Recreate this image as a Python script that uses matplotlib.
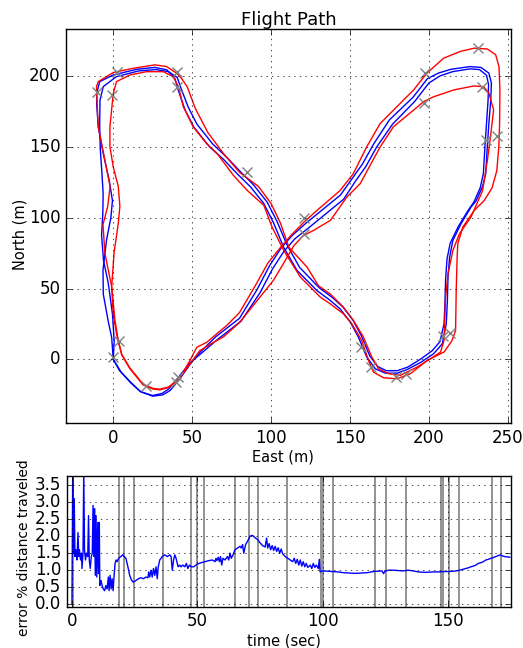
import numpy as np
import matplotlib
matplotlib.use("Agg")
import matplotlib.pyplot as plt

plt.style.use('classic')

# flight path, (east, north) in metres
blue_lap1 = [(0, 0), (4, -8), (10.5, -15.5), (17, -22.5), (25, -26), (31.5, -25), (36, -22), (42, -14),
             (50, -1.5), (55, 5), (65, 16), (80, 29), (91, 49), (99, 66), (106, 78), (113, 87), (122, 96),
             (133, 106), (144, 116), (151, 127), (158, 138), (165, 152), (175, 169), (190, 185), (199, 198),
             (206, 202), (214, 204.7), (226, 206.6), (233, 206), (238, 202), (239.6, 195), (239.2, 183),
             (238, 166.5), (237, 150), (236, 131), (234, 122), (230, 112), (226.7, 107.5), (220.4, 95.8),
             (215.2, 84), (213.1, 72), (212.1, 58), (211.7, 41.5), (211, 25), (208.5, 11), (203, 4), (195, -2),
             (186, -7.3), (180, -9.7), (172.3, -9.7), (166, -6.6), (160.6, 1.7), (155.3, 15.8), (150, 26.7),
             (143.6, 35.8), (137, 42), (129, 48.6), (116.5, 62.7), (108, 79), (101.7, 96), (95.4, 110),
             (87, 121.7), (78.5, 131), (70, 141), (61, 150), (51, 164), (45.5, 176), (41.2, 190), (39, 198.3),
             (34, 204.3), (26.4, 206), (15, 204.7), (0, 200.7), (-8.5, 196), (-10.5, 188), (-10.5, 180),
             (-9.5, 164), (-6.3, 145), (-2.5, 126), (-0.5, 112), (-1.5, 100), (-4.2, 84.5), (-6.5, 63),
             (-6.3, 46), (-3.2, 27), (-1, 15.5), (0, 0)]
blue_lap2 = [(0, 0), (5, -9), (11, -16.5), (17.5, -23), (25, -25.5), (31, -24), (35, -21), (41, -13),
             (49, -2), (55, 3.5), (66, 14), (81, 27), (93, 47), (101, 64), (108, 76), (115, 85), (124, 93),
             (135, 103), (146, 113), (153, 125), (160, 136), (167, 150), (177, 166), (191, 182), (200, 195),
             (207, 200), (215, 203), (226, 205), (232, 204.5), (236.5, 200.5), (237.8, 194), (237.5, 183),
             (236.5, 166.5), (235.5, 150), (234.5, 131), (232.5, 121), (228.5, 111), (224.5, 104.5),
             (218.5, 93.5), (213.5, 82), (211.5, 71), (210.6, 57), (210.2, 41), (209.6, 25), (207, 12.5),
             (202, 6), (194.5, 0), (186.5, -5.5), (180, -8), (173, -8), (167.5, -5), (162.5, 2.5), (157.5, 16),
             (152, 27.5), (145.5, 37), (139, 43.5), (130.5, 50.5), (118, 65), (110, 81), (103.7, 97.5),
             (97.5, 111), (89, 123), (80.5, 132.5), (72, 142.5), (63, 152), (53, 166), (47.5, 178), (43, 191),
             (40.5, 199), (35, 203), (27, 204.5), (16, 203.5), (2, 199.5), (-6.3, 192.5), (-8.4, 183),
             (-8.6, 165), (-8.2, 148), (-7.2, 132), (-6.4, 117), (-6.6, 103), (-7.4, 88), (-6.2, 70),
             (-3.2, 54), (-0.5, 32), (0.6, 13), (0, 0)]
red_left = [(3.2, 13), (5.5, 3), (10.5, -6.5), (18.9, -18), (25.3, -21), (29.5, -21.5), (34.7, -20),
            (42.1, -13.1), (48.4, -1.2), (52.9, 8.5), (59.2, 12), (65.5, 18), (72, 24), (80, 33), (90, 52),
            (98, 68), (106, 79), (113, 88), (121, 97), (130, 106), (143.6, 119), (152.1, 131), (160.6, 150),
            (169.1, 166.4), (181.8, 180.6), (190.3, 190.1), (198.7, 201.9), (209.3, 212.5), (219.9, 217.3),
            (228.8, 219.6), (237, 219), (242.3, 215), (244.4, 206.6), (245, 190), (244.8, 166.5),
            (244.3, 150), (243, 133), (240, 121), (235, 112), (228.8, 105.2), (221.5, 93.4), (218.3, 81.6),
            (217.9, 72.2), (217.3, 48.6), (216.9, 20.3), (214.5, 13), (209.6, 5.2), (199, -0.7),
            (188.3, -10.1), (179.8, -13.7), (171.3, -13), (164.9, -9), (161.7, -0.7), (157.4, 13.4),
            (151.1, 25.2), (145.7, 32.3), (137.2, 39.4), (131.2, 43.9), (118.6, 58), (108, 76.9),
            (100.6, 93.4), (95.4, 108.7), (84.8, 119.3), (76, 130), (66, 145), (59.2, 152.2), (50.7, 164),
            (44.4, 178.3), (41.2, 192.5), (38, 199.5), (31.7, 203), (21.1, 203), (10.6, 200.7), (2.1, 196),
            (0, 187.7), (-2.1, 164.2), (-2.1, 150), (0, 135.8), (3.2, 122), (4.2, 108), (3.2, 96),
            (0.5, 75), (-1, 51.2), (1.1, 27.4), (3.2, 13)]
red_right = [(2.1, 17.9), (5.3, 3.6), (10.5, -6), (18.9, -17.5), (25.3, -20.5), (29.5, -21), (35, -19.5),
             (40, -16), (48.4, -3.6), (54.7, 6), (62, 11), (70, 16), (80, 26), (93, 44), (101.5, 55.8),
             (107, 66), (114.3, 80), (120, 87), (126.9, 91), (137.6, 98.1), (147.9, 114.4), (156.4, 123.9),
             (169.1, 149.9), (177.5, 164.1), (190.3, 175.9), (196.6, 181.8), (203, 185.3), (215.7, 190.1),
             (228.4, 192.9), (234.7, 192.4), (238, 188), (241, 176), (239, 157), (237, 140), (235, 126),
             (234, 119), (226.7, 100.5), (219.4, 88.7), (215.2, 76.9), (212.1, 60.4), (210.4, 41.5),
             (210, 25), (209.6, 13.4), (207.4, 5.2), (201.1, 0.5), (192.6, -5.4), (181.9, -11.3),
             (174.5, -10.1), (168.1, -6.6), (163.8, 1.7), (158.5, 15.8), (152.1, 27.6), (145.7, 37),
             (137.6, 46), (130, 52), (122.8, 65.1), (111.2, 79.2), (106, 96), (100, 110), (92, 122),
             (80, 132), (70, 145), (60, 160), (52, 177), (47, 192), (43.3, 198.3), (40.2, 201.9),
             (33.8, 206.6), (26.4, 207.8), (12.7, 205.4), (0, 202.4), (-9.5, 196), (-10.6, 192.4),
             (-10.5, 187.7), (-9.5, 164.2), (-5.3, 140.6), (-2, 122), (-3.5, 108), (-6.5, 95), (-5.3, 75),
             (-1, 51.2), (0, 32.1), (2.1, 17.9)]

# waypoints
wp_east = [2.2, -10.5, -1, 40.1, 40.5, 84.8, 121, 121, 197.3, 196.6, 231, 233.5, 236.3, 243.3,
           208.9, 213.5, 157.2, 163.5, 179.4, 185.7, 41.1, 40, 20.7, 0, 3.6]
wp_north = [203, 188.8, 186.5, 203, 192.4, 132.2, 100, 88.7, 202.3, 181, 219.5, 192.4, 154.7, 157.5,
            16.8, 18.4, 8.5, -5.7, -12.7, -10.3, -12.7, -16, -18.6, 1.4, 13.2]

# error vs time
err_t = [0.0, 0.3, 0.6, 0.9, 1.2, 1.6, 2.0, 2.4, 2.7, 3.0, 3.4, 3.8, 4.0, 4.4, 4.7, 5.0, 5.4, 5.8, 6.3,
         6.6, 6.9, 7.3, 7.7, 8.1, 8.4, 8.7, 9.0, 9.3, 9.6, 9.9, 10.3, 10.6, 10.9, 11.1, 11.6, 12.0, 12.5,
         13.0, 13.5, 14.0, 14.5, 14.8, 15.2, 15.6, 16.0, 16.4, 16.8, 17.2, 17.6, 18.0, 18.6, 19.5, 20.2,
         20.8, 21.5, 22.3, 23.0, 23.8, 24.5, 25.5, 26.5, 27.5, 28.5, 29.5, 30.3, 30.6, 31.0, 31.5, 32.0,
         32.5, 33.0, 33.5, 34.0, 34.4, 35.0, 36.0, 37.0, 38.0, 39.0, 39.5, 40.0, 40.5, 41.0, 41.5, 42.3,
         43.0, 43.5, 44.2, 45.0, 45.6, 46.2, 46.8, 47.5, 48.5, 50.0, 51.5, 53.0, 54.5, 56.0, 57.0, 57.4,
         57.8, 58.3, 58.8, 59.2, 59.7, 60.2, 61.0, 62.0, 62.5, 63.0, 63.5, 64.2, 65.0, 66.0, 67.0, 67.5,
         68.0, 68.5, 69.2, 70.0, 71.0, 72.0, 73.0, 74.0, 75.0, 76.0, 77.0, 77.6, 78.0, 78.6, 79.2, 79.8,
         80.4, 81.0, 81.6, 82.2, 82.8, 83.4, 84.0, 85.0, 86.0, 87.0, 88.0, 88.6, 89.2, 89.8, 90.4, 91.0,
         91.6, 92.2, 92.8, 93.4, 94.0, 95.0, 95.6, 96.2, 96.8, 97.4, 98.2, 98.6, 98.9, 100, 102, 104, 106,
         108, 110, 112, 114, 116, 118, 120, 122, 123.6, 124.2, 124.8, 126, 128, 130, 132, 134, 136, 138,
         140, 142, 144, 146, 148, 150, 152, 154, 156, 158, 159, 160, 161, 162, 163, 164, 165, 166, 167,
         168, 169, 170, 170.8, 171.5, 172.5, 173.5, 174.5]
err_v = [0.0, 3.9, 1.5, 3.1, 1.4, 1.6, 1.3, 2.1, 1.4, 1.6, 1.3, 1.5, 1.05, 1.5, 3.9, 1.6, 1.3, 1.5, 1.4,
         2.6, 1.3, 1.05, 1.4, 1.5, 2.9, 1.4, 2.8, 0.85, 2.6, 0.8, 2.4, 0.9, 2.4, 0.55, 0.7, 0.55, 0.45,
         0.4, 0.55, 0.45, 0.8, 0.4, 0.85, 0.45, 0.75, 0.4, 0.85, 1.2, 1.3, 1.25, 1.35, 1.4, 1.45,
         1.4, 1.35, 1.1, 0.85, 0.7, 0.65, 0.7, 0.75, 0.78, 0.75, 0.8, 0.78, 0.95, 0.8, 1.0, 0.8,
         1.05, 0.85, 1.1, 0.75, 1.1, 1.3, 1.4, 1.45, 1.4, 1.45, 1.4, 1.0, 1.3, 1.45, 1.35, 1.1,
         1.15, 1.1, 1.15, 1.1, 1.2, 1.05, 1.15, 1.1, 1.1, 1.18, 1.22, 1.25, 1.28, 1.3, 1.25, 1.35,
         1.28, 1.38, 1.25, 1.4, 1.15, 1.35, 1.3, 1.4, 1.3, 1.5, 1.35, 1.45, 1.6, 1.65, 1.7, 1.65,
         1.75, 1.5, 1.75, 1.85, 2.0, 2.02, 1.95, 1.9, 1.8, 1.72, 1.68, 1.94, 1.65, 1.78, 1.6, 1.72,
         1.58, 1.7, 1.55, 1.66, 1.5, 1.62, 1.48, 1.4, 1.35, 1.3, 1.25, 1.35, 1.2, 1.32, 1.15, 1.3,
         1.12, 1.25, 1.1, 1.2, 1.08, 1.15, 1.05, 1.2, 1.08, 1.15, 1.05, 1.32, 0.95, 0.98, 0.97, 0.96, 0.95,
         0.93, 0.92, 0.91, 0.91, 0.92, 0.93, 0.96, 0.97, 0.98, 0.9, 0.97, 1.0, 1.0, 0.99, 0.98, 1.0, 0.98,
         0.95, 0.94, 0.94, 0.95, 0.95, 0.96, 0.96, 0.97, 0.99, 1.03, 1.07, 1.1, 1.12, 1.15, 1.2, 1.22,
         1.25, 1.3, 1.32, 1.35, 1.37, 1.4, 1.43, 1.45, 1.42, 1.4, 1.39, 1.38]

# waypoint times
wp_times = [0.4, 18.6, 20.6, 24.9, 36.2, 47.5, 49.8, 52.8, 64.9, 70.6, 74.3, 85.9, 99.3, 100.2,
            104.2, 120.8, 125.2, 133.1, 147.0, 148.1, 150.3, 154.4, 167.3, 170.9]

fig = plt.figure(figsize=(5.23, 6.48), dpi=100, facecolor='white')

ax1 = fig.add_axes([0.126, 0.347, 0.851, 0.608])
for path, col in [(blue_lap1, 'b'), (blue_lap2, 'b'), (red_left, 'r'), (red_right, 'r')]:
    p = np.array(path)
    ax1.plot(p[:, 0], p[:, 1], color=col, lw=1.0)
ax1.plot(wp_east, wp_north, 'x', color='0.5', ms=7, mew=1.0)
ax1.set_xlim(-30, 252)
ax1.set_ylim(-45, 233)
ax1.set_xticks([0, 50, 100, 150, 200, 250])
ax1.set_yticks([0, 50, 100, 150, 200])
ax1.grid(True)
ax1.set_title("Flight Path", fontsize=13, pad=3)
ax1.set_xlabel("East (m)", fontsize=10.5, labelpad=2)
ax1.set_ylabel("North (m)", fontsize=10.5, labelpad=1)
ax1.xaxis.label.set_x(0.487)
ax1.yaxis.label.set_y(0.48)

ax2 = fig.add_axes([0.128, 0.0637, 0.849, 0.2017])
for t in wp_times:
    ax2.axvline(t, color='0.5', lw=1.2)
ax2.plot(err_t, err_v, color='b', lw=1.0)
ax2.set_xlim(-2, 175)
ax2.set_ylim(-0.07, 3.76)
ax2.set_xticks([0, 50, 100, 150])
ax2.set_yticks(np.arange(0, 3.6, 0.5))
ax2.grid(True)
ax2.set_xlabel("time (sec)", fontsize=10.5, labelpad=2)
ax2.set_ylabel("error % distance traveled", fontsize=10, labelpad=3)
ax2.xaxis.label.set_x(0.489)
ax2.yaxis.label.set_y(0.45)

fig.savefig("out.png", dpi=100, facecolor='white')
